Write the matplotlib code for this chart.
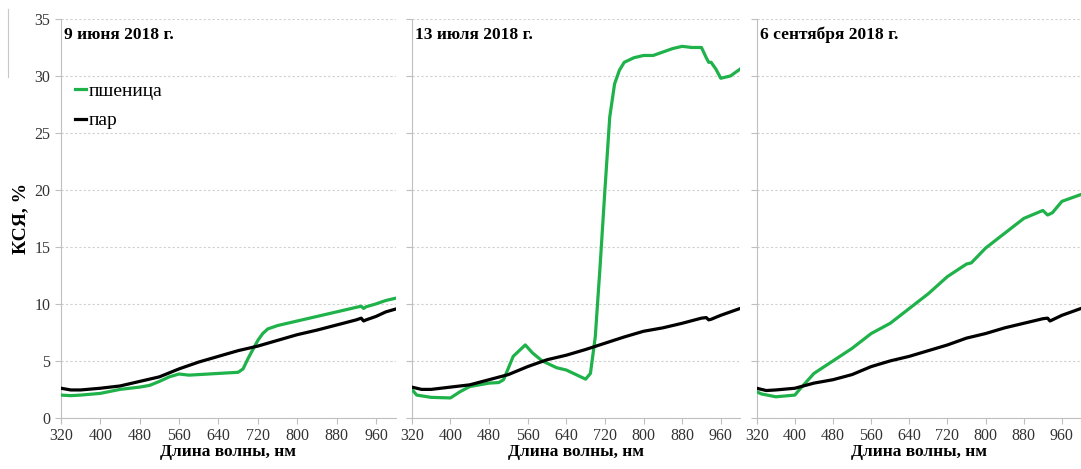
import matplotlib.pyplot as plt
from matplotlib.lines import Line2D

plt.rcParams['font.family'] = ['Liberation Serif', 'DejaVu Serif']

# данные
wl1 = [320, 340, 360, 400, 440, 480, 500, 520, 540, 560, 580, 600, 640, 680, 690, 700,
       710, 720, 730, 740, 760, 800, 840, 880, 920, 930, 935, 940, 960, 980, 1000]
wheat1 = [2.0, 1.95, 2.0, 2.15, 2.5, 2.7, 2.85, 3.2, 3.6, 3.85, 3.75, 3.8, 3.9, 4.0, 4.3, 5.2,
          6.0, 6.8, 7.4, 7.8, 8.1, 8.5, 8.9, 9.3, 9.7, 9.8, 9.6, 9.75, 10.0, 10.3, 10.5]
wlp = [320, 340, 360, 400, 440, 480, 520, 560, 600, 640, 680, 720, 760, 800, 840, 880,
       920, 930, 935, 940, 960, 980, 1000]
par1 = [2.6, 2.45, 2.45, 2.6, 2.8, 3.2, 3.6, 4.3, 4.9, 5.4, 5.9, 6.3, 6.8, 7.3, 7.7, 8.15,
        8.6, 8.75, 8.5, 8.6, 8.9, 9.3, 9.55]

wl2 = [320, 330, 360, 400, 420, 440, 480, 500, 510, 530, 555, 570, 590, 620, 640, 660,
       680, 690, 700, 710, 720, 730, 740, 750, 760, 780, 800, 820, 840, 860, 880, 900,
       920, 930, 935, 940, 950, 960, 980, 1000]
wheat2 = [2.5, 2.0, 1.8, 1.75, 2.3, 2.75, 3.05, 3.1, 3.35, 5.4, 6.4, 5.7, 5.0, 4.4, 4.2, 3.8,
          3.4, 3.9, 7.1, 13.3, 20.0, 26.4, 29.3, 30.5, 31.2, 31.6, 31.8, 31.8, 32.1, 32.4,
          32.6, 32.5, 32.5, 31.6, 31.2, 31.2, 30.6, 29.8, 30.0, 30.6]
par2 = [2.7, 2.5, 2.5, 2.7, 2.9, 3.35, 3.8, 4.5, 5.1, 5.5, 6.0, 6.55, 7.1, 7.6, 7.9, 8.3,
        8.75, 8.8, 8.6, 8.65, 9.0, 9.3, 9.6]

wl3 = [320, 330, 360, 400, 410, 440, 480, 520, 560, 600, 640, 680, 720, 760, 770, 800,
       840, 880, 920, 930, 940, 960, 980, 1000]
wheat3 = [2.3, 2.1, 1.85, 2.0, 2.5, 3.9, 5.0, 6.1, 7.4, 8.3, 9.6, 10.9, 12.4, 13.5, 13.6, 14.9,
          16.2, 17.5, 18.2, 17.8, 18.0, 19.0, 19.3, 19.6]
par3 = [2.6, 2.4, 2.45, 2.6, 3.05, 3.35, 3.8, 4.5, 5.0, 5.4, 5.9, 6.4, 7.0, 7.4, 7.9, 8.3,
        8.7, 8.75, 8.5, 8.6, 9.0, 9.3, 9.6]

titles = ['9 июня 2018 г.', '13 июля 2018 г.', '6 сентября 2018 г.']
green = '#1fb24a'
grey = '#bfbfbf'

fig = plt.figure(figsize=(10.81, 4.69), dpi=100)
boxes = [(0.0564, 0.3096), (0.381, 0.3036), (0.700, 0.300)]
data = [(wl1, wheat1, par1), (wl2, wheat2, par2), (wl3, wheat3, par3)]

for i, ((left, width), (wg, green_vals, par_vals)) in enumerate(zip(boxes, data)):
    ax = fig.add_axes([left, 0.109, width, 0.8505])
    ax.plot(wg, green_vals, color=green, lw=2.3, label='пшеница', zorder=3)
    ax.plot(wlp, par_vals, color='black', lw=2.3, label='пар', zorder=3)
    ax.set_xlim(320, 1000)
    ax.set_ylim(0, 35)
    ax.set_xticks(range(320, 1000, 80))
    ax.set_yticks(range(0, 36, 5))
    ax.yaxis.grid(True, color='#d0d0d0', ls=(0, (2, 2)), lw=0.8)
    ax.set_axisbelow(True)
    for s in ['top', 'right']:
        ax.spines[s].set_visible(False)
    for s in ['left', 'bottom']:
        ax.spines[s].set_color(grey)
    ax.tick_params(axis='both', direction='out', color=grey, length=4, labelsize=11.5,
                   labelcolor='#333333')
    if i > 0:
        ax.tick_params(axis='y', labelleft=False)
    ax.set_xlabel('Длина волны, нм', fontsize=12.5, fontweight='bold', labelpad=0)
    ax.text(0.01, 0.96, titles[i], transform=ax.transAxes, fontsize=12.5,
            fontweight='bold', va='center', ha='left')
    if i == 0:
        ax.set_ylabel('КСЯ, %', fontsize=14, fontweight='bold', labelpad=4)
        ax.legend(loc='upper left', bbox_to_anchor=(0.0, 0.875), frameon=False,
                  handlelength=0.6, handletextpad=0.1, fontsize=14, labelspacing=0.6,
                  borderaxespad=0.3)

fig.add_artist(Line2D([0.0074, 0.0074], [0.835, 0.98], color='#c8c8c8', lw=0.8))

fig.savefig('out.png', dpi=100)
